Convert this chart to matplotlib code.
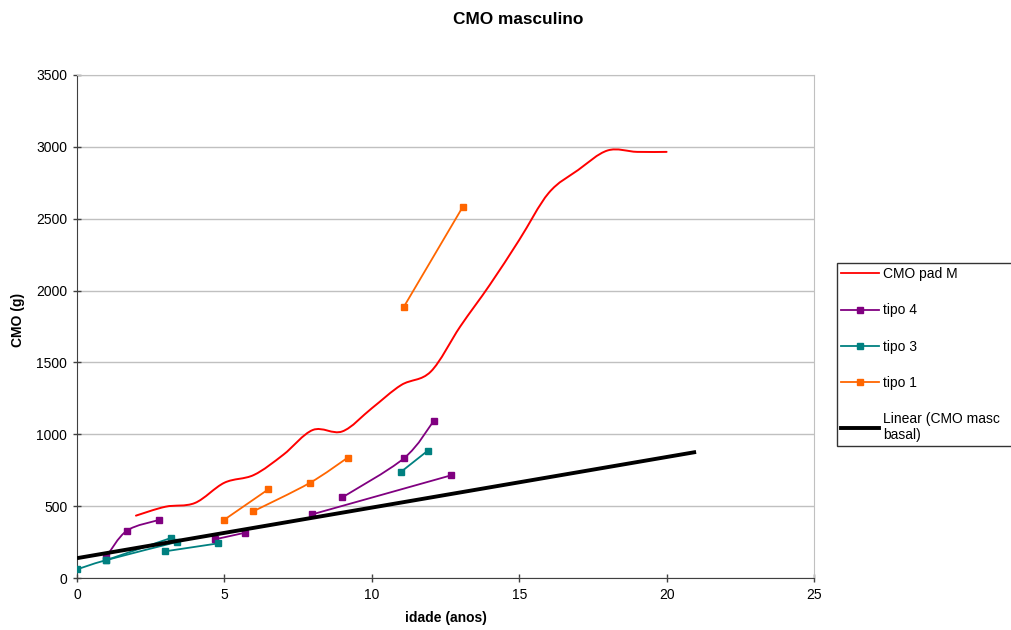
import numpy as np
import matplotlib
matplotlib.use("Agg")
import matplotlib.pyplot as plt
from matplotlib.path import Path
from matplotlib.patches import PathPatch
from matplotlib.lines import Line2D

plt.rcParams['font.family'] = ['Liberation Sans', 'DejaVu Sans']

# Reference growth curve (CMO pad M)
pad_x = [2, 3, 4, 5, 6, 7, 8, 9, 10, 11, 12, 13, 14, 15, 16, 17, 18, 19, 20]
pad_y = [434, 496, 522, 663, 717, 858, 1030, 1020, 1181, 1343, 1436, 1750, 2039,
         2352, 2679, 2839, 2975, 2965, 2965]

# tipo 4 - individual follow-ups
tipo4 = [
    ([1.0, 1.69, 2.78], [150, 329, 404]),
    ([4.68, 5.70], [269, 315]),
    ([7.98, 12.7], [443, 715]),
    ([9.0, 11.09, 12.1], [561, 833, 1093]),
]

# tipo 3 - individual follow-ups
tipo3 = [
    ([0.0, 1.0, 3.38], [60, 125, 250]),
    ([1.0, 3.18], [125, 278]),
    ([3.0, 4.79], [186, 241]),
    ([11.0, 11.9], [740, 886]),
]

# tipo 1 - individual follow-ups
tipo1 = [
    ([5.0, 6.49], [406, 617]),
    ([5.98, 7.89, 9.18], [464, 661, 837]),
    ([11.09, 13.09], [1888, 2584]),
]

# Linear trend of the basal CMO series
trend_x = [0, 21]
trend_y = [138, 877]

x_ticks = [0, 5, 10, 15, 20, 25]
y_ticks = [0, 500, 1000, 1500, 2000, 2500, 3000, 3500]

RED = '#FF0000'
PURPLE = '#800080'
TEAL = '#008080'
ORANGE = '#FF6600'

W, H = 1012, 630


def smooth_path(xs, ys):
    """Cubic Bezier path through the points (spreadsheet-style smoothed line)."""
    pts = np.column_stack([xs, ys]).astype(float)
    n = len(pts)
    verts = [pts[0]]
    codes = [Path.MOVETO]
    for i in range(n - 1):
        p0 = pts[i - 1] if i > 0 else pts[i]
        p1 = pts[i]
        p2 = pts[i + 1]
        p3 = pts[i + 2] if i + 2 < n else pts[i + 1]
        c1 = p1 + (p2 - p0) / 6.0
        c2 = p2 - (p3 - p1) / 6.0
        verts += [c1, c2, p2]
        codes += [Path.CURVE4] * 3
    return Path(verts, codes)


def draw_series(ax, xs, ys, color, lw=1.3, marker=True):
    patch = PathPatch(smooth_path(xs, ys), facecolor='none', edgecolor=color,
                      lw=lw, zorder=3, capstyle='round')
    ax.add_patch(patch)
    if marker:
        ax.plot(xs, ys, ls='none', marker='s', ms=5, color=color,
                mec=color, zorder=4)


fig = plt.figure(figsize=(W / 100, H / 100), dpi=100)
ax = fig.add_axes([77 / W, 52 / H, 737 / W, 503 / H])

ax.set_xlim(0, 25)
ax.set_ylim(0, 3500)
ax.set_xticks(x_ticks)
ax.set_yticks(y_ticks)
ax.yaxis.grid(True, color='#C0C0C0', lw=1)
ax.set_axisbelow(True)

for s in ['top', 'right']:
    ax.spines[s].set_color('#C0C0C0')
for s in ['left', 'bottom']:
    ax.spines[s].set_color('#404040')
ax.tick_params(direction='inout', length=6, width=1, color='#404040',
               labelsize=10, pad=4)

draw_series(ax, pad_x, pad_y, RED, lw=1.4, marker=False)
for xs, ys in tipo4:
    draw_series(ax, xs, ys, PURPLE)
for xs, ys in tipo3:
    draw_series(ax, xs, ys, TEAL)
for xs, ys in tipo1:
    draw_series(ax, xs, ys, ORANGE)
ax.plot(trend_x, trend_y, color='black', lw=2.8, zorder=5, solid_capstyle='butt')

fig.text(518 / W, 1 - 20 / H, 'CMO masculino', fontsize=12.4,
         fontweight='bold', ha='center', va='center')
fig.text(446 / W, 1 - 618 / H, 'idade (anos)', fontsize=10,
         fontweight='bold', ha='center', va='center')
fig.text(18 / W, 1 - 320 / H, 'CMO (g)', fontsize=10, fontweight='bold',
         ha='center', va='center', rotation=90)

handles = [
    Line2D([], [], color=RED, lw=1.3),
    Line2D([], [], color=PURPLE, lw=1.3, marker='s', ms=4),
    Line2D([], [], color=TEAL, lw=1.3, marker='s', ms=4),
    Line2D([], [], color=ORANGE, lw=1.3, marker='s', ms=4),
    Line2D([], [], color='black', lw=2.8),
]
labels = ['CMO pad M', 'tipo 4', 'tipo 3', 'tipo 1', 'Linear (CMO masc\nbasal)']
leg = fig.legend(handles, labels, loc='upper left', mode='expand',
                 bbox_to_anchor=(837 / W, 1 - 263 / H, 190 / W, 0),
                 bbox_transform=fig.transFigure, fontsize=10,
                 frameon=True, fancybox=False, edgecolor='black',
                 handlelength=2.7, handletextpad=0.3, labelspacing=1.6,
                 borderpad=0.3, borderaxespad=0)
leg.get_frame().set_linewidth(1.0)

fig.savefig('out.png', dpi=100)
